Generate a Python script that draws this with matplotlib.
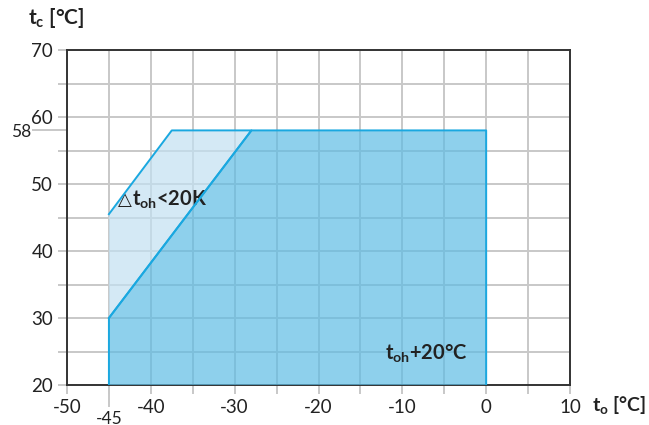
import numpy as np
import matplotlib
matplotlib.use("Agg")
import matplotlib.pyplot as plt
import matplotlib.transforms as mtransforms

plt.rcParams['font.family'] = ['Lato', 'DejaVu Sans']
plt.rcParams['mathtext.fontset'] = 'custom'
plt.rcParams['mathtext.rm'] = 'Lato'
plt.rcParams['mathtext.bf'] = 'Lato:bold'

# envelope data (to, tc)
dark_to = [-45, -45, -28, 0, 0]
dark_tc = [20, 30, 58, 58, 20]
light_to = [-45, -37.5, -28, -45]
light_tc = [45.5, 58, 58, 30]

xticks = [-50, -40, -30, -20, -10, 0, 10]
yticks = [20, 30, 40, 50, 60, 70]

edge = '#1aa8e0'
grid = '#c8c8c8'
txt = '#222222'

fig = plt.figure(figsize=(6.49, 4.25), dpi=100)
ax = fig.add_axes([67/649, 40/425, 503/649, 335/425])
ax.set_xlim(-50, 10)
ax.set_ylim(20, 70)

xs = np.arange(-50, 11, 5)
ys = np.arange(20, 71, 5)
ax.set_xticks(xs)
ax.set_yticks(ys)
ax.set_xticklabels([str(v) if v in xticks else '' for v in xs])
ax.set_yticklabels([str(v) if v in yticks else '' for v in ys])
ax.grid(True, color=grid, lw=1.4, zorder=0)
ax.set_axisbelow(True)
ax.tick_params(color=grid, width=1.4, length=6.5, labelsize=13.5, labelcolor=txt, pad=3.5)
for s in ax.spines.values():
    s.set_color('#333333')
    s.set_linewidth(1.4)

ax.fill(light_to, light_tc, facecolor='#c2e1f2', alpha=0.7, edgecolor='none', zorder=2)
ax.fill(dark_to, dark_tc, facecolor='#5ebce4', alpha=0.7, edgecolor='none', zorder=3)
ax.plot(light_to[:3] + [light_to[3]], light_tc[:3] + [light_tc[3]], color=edge, lw=1.4, zorder=4)
ax.plot(dark_to, dark_tc, color=edge, lw=1.4, zorder=4)

# special ticks at -45 and 58
bx = mtransforms.blended_transform_factory(ax.transData, ax.transAxes)
by = mtransforms.blended_transform_factory(ax.transAxes, ax.transData)
ax.plot([-45, -45], [0, -0.062], transform=bx, color=grid, lw=1.4, clip_on=False)
ax.text(-45, -0.1, '-45', transform=bx, ha='center', va='center', fontsize=12.5, color=txt)
ax.plot([0, -0.068], [58, 58], transform=by, color=grid, lw=1.4, clip_on=False)
ax.text(-0.072, 57.7, '58', transform=by, ha='right', va='center', fontsize=12.5, color=txt)

ax.text(-43.9, 47.6, '△', fontsize=13, color=txt, va='center', ha='left', family='DejaVu Sans')
ax.text(-42.3, 47.6, r'$\mathbf{t_{oh}}$<20K', fontsize=14.5, fontweight='bold', color=txt, va='center', ha='left')
ax.text(-12.1, 24.6, r'$\mathbf{t_{oh}}$+20°C', fontsize=14.5, fontweight='bold', color=txt, va='center', ha='left')

fig.text(28/649, 1 - 18/425, r'$\mathbf{t_{c}}$ [°C]', fontsize=15, fontweight='bold', color=txt, va='center', ha='left')
fig.text(592/649, 1 - 405/425, r'$\mathbf{t_{o}}$ [°C]', fontsize=14, fontweight='bold', color=txt, va='center', ha='left')

fig.savefig('out.png', dpi=100)
